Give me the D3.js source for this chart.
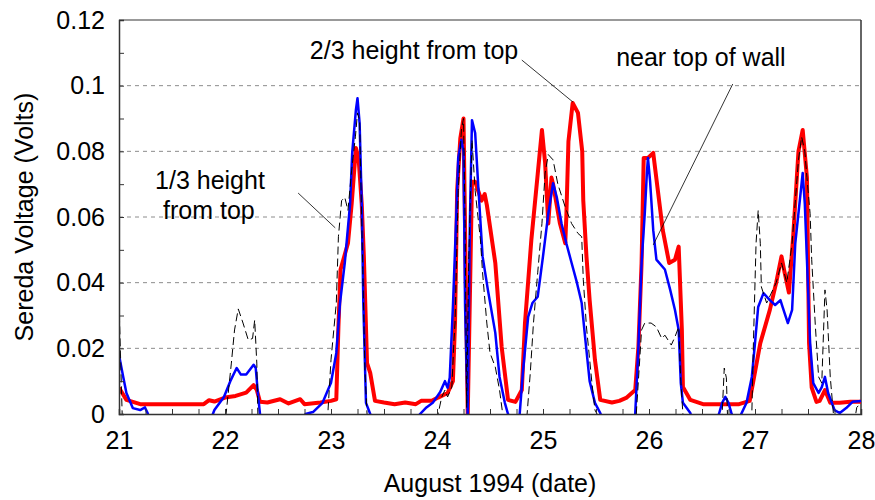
<!DOCTYPE html>
<html>
<head>
<meta charset="utf-8">
<script src="https://cdn.jsdelivr.net/npm/d3@7"></script>
<style>
	body { margin: 0; background: #fff; }
	.axis path, .axis line { stroke: #333; }
</style>
</head>
<body>
<div class="sereda-chart"></div>
<script>
// Dates are in days of August 1994, readings in volts.
var redDays = [21.0, 21.07, 21.2, 21.5, 21.8, 21.85, 21.9, 22.0, 22.1, 22.2, 22.27, 22.3, 22.33, 22.4, 22.52, 22.6, 22.71, 22.75, 22.9,
	23.0, 23.05, 23.07, 23.09, 23.16, 23.195, 23.235, 23.26, 23.29, 23.31, 23.34, 23.37, 23.415, 23.5, 23.6, 23.7, 23.8, 23.85, 23.95,
	24.01, 24.1, 24.15, 24.17, 24.19, 24.22, 24.25, 24.29, 24.33, 24.36, 24.42, 24.45, 24.47, 24.55, 24.61, 24.67, 24.74, 24.8, 24.83, 24.89, 24.95, 24.99,
	25.02, 25.05, 25.08, 25.095, 25.16, 25.21, 25.22, 25.24, 25.28, 25.33, 25.37, 25.38, 25.41, 25.44, 25.49, 25.54, 25.65, 25.72, 25.79, 25.87, 25.9, 25.93, 25.95, 25.99,
	26.04, 26.08, 26.13, 26.19, 26.245, 26.28, 26.31, 26.32, 26.39, 26.51, 26.7, 26.85, 26.95,
	27.05, 27.14, 27.2, 27.25, 27.28, 27.32, 27.36, 27.41, 27.45, 27.49, 27.51, 27.535, 27.58, 27.61, 27.66, 27.71, 27.8, 27.9, 28.0];
var redVolts = [0.008, 0.0043, 0.003, 0.003, 0.003, 0.0042, 0.0038, 0.005, 0.0055, 0.0065, 0.0088, 0.0073, 0.0037, 0.0035, 0.0045, 0.0032, 0.0045, 0.003, 0.0035,
	0.004, 0.0045, 0.0265, 0.044, 0.052, 0.064, 0.081, 0.078, 0.064, 0.048, 0.0155, 0.0125, 0.004, 0.0035, 0.003, 0.0035, 0.003, 0.004, 0.004,
	0.005, 0.0064, 0.010, 0.0277, 0.068, 0.084, 0.090, 0.0, 0.0707, 0.0707, 0.065, 0.067, 0.0637, 0.046, 0.0204, 0.0043, 0.0037, 0.0073, 0.0277, 0.053, 0.073, 0.0865,
	0.0765, 0.058, 0.072, 0.070, 0.058, 0.052, 0.060, 0.083, 0.0947, 0.0917, 0.080, 0.065, 0.048, 0.0347, 0.0165, 0.0043, 0.0035, 0.004, 0.005, 0.0073, 0.0204, 0.046, 0.078, 0.078,
	0.0795, 0.069, 0.056, 0.046, 0.047, 0.051, 0.0256, 0.0082, 0.0043, 0.003, 0.003, 0.003, 0.004,
	0.0216, 0.0317, 0.040, 0.048, 0.043, 0.037, 0.054, 0.080, 0.0865, 0.072, 0.0216, 0.008, 0.0037, 0.004, 0.0073, 0.0034, 0.0034, 0.0037, 0.0037];

var blueDays = [21.0, 21.04, 21.07, 21.13, 21.2, 21.245, 21.27, 21.3, 21.85, 21.9, 21.99, 22.05, 22.11, 22.15, 22.2, 22.27, 22.29, 22.31, 22.33, 22.36, 22.72, 22.76, 22.83, 22.92,
	23.0, 23.05, 23.085, 23.13, 23.18, 23.2, 23.235, 23.25, 23.27, 23.29, 23.305, 23.33, 23.37, 23.4, 23.78, 23.84, 23.9, 23.96,
	24.03, 24.075, 24.1, 24.12, 24.15, 24.185, 24.2, 24.23, 24.25, 24.265, 24.29, 24.31, 24.33, 24.36, 24.39, 24.43, 24.48, 24.55, 24.59, 24.64, 24.67, 24.7, 24.75, 24.78, 24.81, 24.86, 24.9, 24.95,
	25.0, 25.05, 25.095, 25.13, 25.175, 25.22, 25.27, 25.32, 25.365, 25.4, 25.44, 25.49, 25.54, 25.58, 25.84, 25.87, 25.9, 25.93, 25.96, 25.98, 25.99,
	26.01, 26.04, 26.07, 26.15, 26.2, 26.245, 26.28, 26.3, 26.32, 26.39, 26.42, 26.62, 26.66, 26.69, 26.72, 26.75, 26.78, 26.81, 26.84, 26.87, 26.92, 26.97,
	27.0, 27.03, 27.08, 27.14, 27.19, 27.24, 27.26, 27.31, 27.35, 27.38, 27.43, 27.45, 27.47, 27.49, 27.52, 27.55, 27.6, 27.63, 27.66, 27.69, 27.75, 27.8, 27.86, 27.92, 28.0];
var blueVolts = [0.018, 0.0113, 0.0064, 0.0018, 0.0012, 0.002, 0.0003, -0.003, -0.003, 0.0012, 0.0052, 0.010, 0.014, 0.012, 0.012, 0.015, 0.014, 0.0064, 0.0, -0.003, -0.003, 0.0, 0.0006, 0.0034,
	0.0095, 0.0186, 0.0338, 0.046, 0.064, 0.0795, 0.0926, 0.0962, 0.0886, 0.064, 0.0338, 0.0034, 0.0, -0.003, -0.003, 0.0, 0.002, 0.0034,
	0.0067, 0.010, 0.008, 0.011, 0.0326, 0.063, 0.078, 0.0835, 0.080, 0.0326, 0.0, 0.058, 0.0895, 0.0856, 0.069, 0.048, 0.0378, 0.0247, 0.0113, 0.0034, 0.0, -0.003, -0.003, 0.0, 0.0125, 0.0296, 0.0338, 0.0357,
	0.048, 0.061, 0.0703, 0.066, 0.058, 0.052, 0.046, 0.040, 0.0338, 0.0225, 0.010, 0.0034, 0.0003, -0.003, -0.003, 0.0, 0.0204, 0.046, 0.061, 0.0734, 0.078,
	0.071, 0.056, 0.047, 0.044, 0.0378, 0.0317, 0.0256, 0.0094, 0.0034, 0.0003, -0.003, -0.003, 0.0, 0.0034, 0.0052, 0.0034, 0.0, -0.003, -0.003, 0.0, 0.0034, 0.0113,
	0.0216, 0.0326, 0.0368, 0.0347, 0.0332, 0.0347, 0.0326, 0.0277, 0.0317, 0.052, 0.0673, 0.0734, 0.064, 0.047, 0.0216, 0.0094, 0.0064, 0.0082, 0.0113, 0.0064, 0.0012, 0.0003, 0.0018, 0.0037, 0.004];

var dashDays = [21.0, 21.03, 21.05, 21.98, 22.01, 22.06, 22.09, 22.125, 22.17, 22.22, 22.26, 22.28, 22.3, 22.31, 22.33, 22.95, 22.97,
	23.0, 23.05, 23.07, 23.1, 23.13, 23.16, 23.195, 23.23, 23.25, 23.27, 23.28, 23.3, 23.32, 23.34, 23.36, 23.99,
	24.01, 24.045, 24.075, 24.1, 24.14, 24.16, 24.17, 24.2, 24.23, 24.25, 24.265, 24.28, 24.3, 24.33, 24.36, 24.41, 24.43, 24.47, 24.5, 24.55, 24.59, 24.62, 24.64, 24.83, 24.85, 24.88, 24.91, 24.95, 24.99,
	25.02, 25.05, 25.095, 25.14, 25.21, 25.27, 25.33, 25.365, 25.38, 25.41, 25.46, 25.49, 25.51, 25.53, 25.86, 25.88, 25.93, 25.96,
	26.02, 26.07, 26.12, 26.15, 26.18, 26.21, 26.245, 26.28, 26.3, 26.32, 26.34, 26.67, 26.69, 26.71, 26.73, 26.74, 26.76, 26.95, 26.97, 26.985,
	27.01, 27.03, 27.05, 27.06, 27.11, 27.2, 27.25, 27.3, 27.35, 27.41, 27.44, 27.47, 27.49, 27.52, 27.535, 27.57, 27.6, 27.63, 27.66, 27.68, 27.71, 27.74, 27.76, 27.93, 27.95, 27.96, 28.0];
var dashVolts = [0.034, 0.0, -0.003, -0.003, 0.0, 0.0155, 0.0256, 0.032, 0.0277, 0.0225, 0.023, 0.0286, 0.0155, 0.0, -0.003, -0.003, 0.0,
	0.0165, 0.0338, 0.054, 0.065, 0.066, 0.062, 0.0743, 0.0844, 0.0917, 0.0895, 0.074, 0.044, 0.0134, 0.0, -0.003, -0.003,
	0.0, 0.0052, 0.0073, 0.0052, 0.0082, 0.0225, 0.0277, 0.068, 0.0865, 0.090, 0.058, 0.002, 0.048, 0.0835, 0.068, 0.053, 0.043, 0.0277, 0.0186, 0.0143, 0.0073, 0.0, -0.003, -0.003, 0.0, 0.0125, 0.0277, 0.043, 0.058,
	0.0734, 0.079, 0.0774, 0.070, 0.063, 0.058, 0.055, 0.054, 0.041, 0.0265, 0.010, 0.0012, 0.0, -0.003, -0.003, 0.0, 0.0256, 0.0277,
	0.0277, 0.0265, 0.023, 0.024, 0.0225, 0.021, 0.0235, 0.0265, 0.01, 0.0, -0.003, -0.003, 0.0, 0.014, 0.011, 0.0, -0.003, -0.003, 0.0, 0.0216,
	0.052, 0.062, 0.052, 0.0387, 0.0338, 0.040, 0.046, 0.040, 0.052, 0.0774, 0.0844, 0.080, 0.072, 0.061, 0.047, 0.0265, 0.0113, 0.0094, 0.0378, 0.0317, 0.0113, 0.0, -0.003, -0.003, 0.0, 0.002, 0.0034];

var xTickValues = [21, 22, 23, 24, 25, 26, 27, 28];
var xTickLabels = ['21', '22', '23', '24', '25', '26', '27', '28'];
var yTickValues = [0, 0.02, 0.04, 0.06, 0.08, 0.1, 0.12];
var yTickLabels = ['0', '0.02', '0.04', '0.06', '0.08', '0.1', '0.12'];

var redColor = '#ff0000',
	blueColor = '#0000ff',
	dashColor = '#000000',
	gridColor = '#8c8c8c',
	fontSize = '25px';
var margin = {top: 20, left: 119, bottom: 86, right: 14};
var width = 875 - margin.left - margin.right;
var height = 500 - margin.top - margin.bottom;
var x = d3.scaleLinear().domain([21, 28]).range([0, width]);
var y = d3.scaleLinear().domain([0, 0.12]).range([height, 0]);

var svg = d3.select('.sereda-chart').append('svg')
	.attr('width', 875)
	.attr('height', 500)
	.attr('font-family', 'Arial, "Liberation Sans", sans-serif')
	.attr('font-size', fontSize)
	.attr('fill', '#000')
.append('g')
	.attr('transform', 'translate(' + margin.left + ',' + margin.top + ')');

svg.append('clipPath')
	.attr('id', 'plot-clip')
.append('rect')
	.attr('width', width)
	.attr('height', height);

// Dashed grid lines every 0.02 V...
svg.append('g')
	.selectAll('line')
	.data(yTickValues.filter(function(d) { return d > 0 && d < 0.12; }))
	.enter().append('line')
	.attr('x1', 0)
	.attr('x2', width)
	.attr('y1', function(d) { return y(d); })
	.attr('y2', function(d) { return y(d); })
	.attr('stroke', gridColor)
	.attr('stroke-width', 1)
	.attr('stroke-dasharray', '4,4');

// ...the frame on top and right...
svg.append('line')
	.attr('x1', 0).attr('x2', width)
	.attr('y1', y(0.12)).attr('y2', y(0.12))
	.attr('stroke', '#777').attr('stroke-width', 1.5);
svg.append('line')
	.attr('x1', x(28)).attr('x2', x(28))
	.attr('y1', 0).attr('y2', height)
	.attr('stroke', '#333').attr('stroke-width', 1.5);

// ...and the three sensor traces.
var line = d3.line()
	.x(function(d) { return x(d[0]); })
	.y(function(d) { return y(d[1]); });
var series = [
	{days: redDays, volts: redVolts, color: redColor, w: 4, dash: null},
	{days: blueDays, volts: blueVolts, color: blueColor, w: 2.5, dash: null},
	{days: dashDays, volts: dashVolts, color: dashColor, w: 1, dash: '8,4'}
];
series.forEach(function(s) {
	svg.append('path')
		.datum(d3.zip(s.days, s.volts))
		.attr('clip-path', 'url(#plot-clip)')
		.attr('fill', 'none')
		.attr('stroke', s.color)
		.attr('stroke-width', s.w)
		.attr('stroke-linejoin', 'round')
		.attr('stroke-dasharray', s.dash)
		.attr('d', line);
});

// Axes: minor ticks point inwards, labels come from a second axis without ticks.
var minorY = d3.range(0, 0.1201, 0.01);
var minorX = d3.range(21, 28.001, 0.25);
svg.append('g')
	.attr('class', 'axis')
	.call(d3.axisLeft(y).tickValues(minorY).tickSize(-5).tickFormat(''))
	.select('.domain').attr('stroke-width', 1.5);
svg.append('g')
	.attr('class', 'axis')
	.attr('transform', 'translate(0,' + height + ')')
	.call(d3.axisBottom(x).tickValues(minorX).tickSize(-5).tickFormat(''))
	.select('.domain').attr('stroke-width', 1.5);
svg.append('g')
	.call(d3.axisLeft(y).tickValues(yTickValues).tickSize(0).tickPadding(14)
		.tickFormat(function(d, i) { return yTickLabels[i]; }))
	.call(function(g) { g.select('.domain').remove(); })
	.selectAll('text').attr('font-size', fontSize).attr('font-family', null);
svg.append('g')
	.attr('transform', 'translate(0,' + height + ')')
	.call(d3.axisBottom(x).tickValues(xTickValues).tickSize(0).tickPadding(17)
		.tickFormat(function(d, i) { return xTickLabels[i]; }))
	.call(function(g) { g.select('.domain').remove(); })
	.selectAll('text').attr('font-size', fontSize).attr('font-family', null);

svg.append('text')
	.attr('x', x(24.5))
	.attr('y', height + 78)
	.attr('text-anchor', 'middle')
	.text('August 1994 (date)');
svg.append('text')
	.attr('transform', 'translate(' + (-margin.left + 33) + ',' + y(0.06) + ') rotate(-90)')
	.attr('text-anchor', 'middle')
	.text('Sereda Voltage (Volts)');

// Annotations with leader lines, placed in data units.
var notes = [
	{lines: ['2/3 height from top'], day: 22.8, volt: 0.1082, from: [24.8, 0.1078], to: [25.283, 0.095]},
	{lines: ['near top of wall'], day: 25.69, volt: 0.106, from: [26.79, 0.1005], to: [26.04, 0.0515]},
	{lines: ['1/3 height', 'from top'], day: 21.34, volt: 0.0685, from: [22.69, 0.0673], to: [23.04, 0.0567]}
];
notes.forEach(function(n) {
	var t = svg.append('text')
		.attr('x', x(n.day))
		.attr('y', y(n.volt));
	n.lines.forEach(function(s, i) {
		t.append('tspan')
			.attr('x', x(n.day) + (i === 1 ? 8 : 0))
			.attr('dy', i === 0 ? 0 : 30)
			.text(s);
	});
	svg.append('line')
		.attr('x1', x(n.from[0]))
		.attr('y1', y(n.from[1]))
		.attr('x2', x(n.to[0]))
		.attr('y2', y(n.to[1]))
		.attr('stroke', '#000')
		.attr('stroke-width', 0.8);
});
</script>
</body>
</html>
